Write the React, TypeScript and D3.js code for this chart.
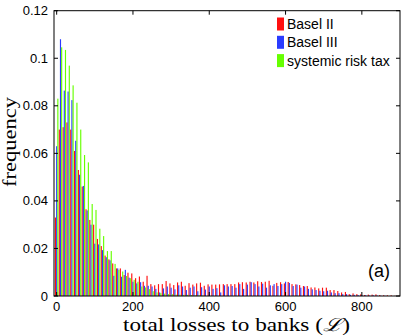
import React from "react";
import * as d3 from "d3";

// histogram bins are centred on 0, 10, 20, ... (losses)
const binStep = 10;

const basel2 = [
  0.033, 0.07, 0.071, 0.073, 0.07, 0.061, 0.053, 0.046, 0.0365, 0.032,
  0.03, 0.024, 0.021, 0.017, 0.0154, 0.0137, 0.0116, 0.0116, 0.0088, 0.0098,
  0.0095, 0.0075, 0.0082, 0.006, 0.0085, 0.005, 0.0045, 0.005, 0.005, 0.0063,
  0.0053, 0.0046, 0.0057, 0.006, 0.0043, 0.0054, 0.0048, 0.0053, 0.0056, 0.0043,
  0.0049, 0.0048, 0.0048, 0.0049, 0.005, 0.005, 0.005, 0.005, 0.0057, 0.0058,
  0.0057, 0.006, 0.0057, 0.0062, 0.0059, 0.006, 0.0064, 0.0043, 0.0055, 0.0058,
  0.0053, 0.0059, 0.005, 0.0049, 0.0046, 0.0042, 0.0042, 0.0036, 0.0036, 0.0032,
  0.0035, 0.0035, 0.0025, 0.0025, 0.0021, 0.0015, 0.0017, 0.0008, 0.0011, 0.0008,
  0.0007, 0.0004, 0.0006, 0.0006, 0.0007, 0.0004, 0.0003, 0.0003, 0.0003, 0.0001,
  0.0001,
];

const basel3 = [
  0.063, 0.108, 0.0864, 0.086, 0.0824, 0.0653, 0.051, 0.0463, 0.036, 0.03,
  0.022, 0.0217, 0.0193, 0.0163, 0.015, 0.0085, 0.0116, 0.0081, 0.011, 0.0077,
  0.006, 0.0053, 0.0058, 0.0043, 0.0043, 0.004, 0.003, 0.0015, 0.0032, 0.004,
  0.0035, 0.0028, 0.0045, 0.004, 0.0025, 0.0035, 0.004, 0.002, 0.0037, 0.0027,
  0.004, 0.003, 0.0033, 0.0015, 0.0045, 0.004, 0.0042, 0.0035, 0.005, 0.003,
  0.0048, 0.0058, 0.005, 0.004, 0.0052, 0.0035, 0.0045, 0.005, 0.0042, 0.005,
  0.006, 0.0055, 0.0042, 0.0048, 0.0035, 0.004, 0.003, 0.0028, 0.0025, 0.0022,
  0.002, 0.0022, 0.0015, 0.0012, 0.0012, 0.0008, 0.0008, 0.0005, 0.0005, 0.0004,
  0.0003, 0.0003, 0.0002, 0.0003, 0.0002, 0.0001, 0.0001,
];

const riskTax = [
  0.083, 0.1046, 0.1035, 0.0969, 0.0886, 0.0813, 0.07, 0.0593, 0.0562, 0.0387,
  0.0362, 0.0283, 0.0252, 0.0189, 0.0189, 0.0135, 0.011, 0.0103, 0.0084, 0.0075,
  0.0068, 0.006, 0.004, 0.0036, 0.0029, 0.002, 0.0015, 0.0012, 0.001, 0.0008,
  0.0008, 0.0006, 0.0006, 0.0005, 0.0005, 0.0004, 0.0003, 0.0003, 0.0002,
];

const seriesNames = ["Basel II", "Basel III", "systemic risk tax"];
const xTicks = [0, 200, 400, 600, 800];
const yTicks = [0, 0.02, 0.04, 0.06, 0.08, 0.1, 0.12];

const colors = ["#ff1010", "#2a3cff", "#66ff00"];

export default function App() {
  const width = 407;
  const height = 336;
  // axes box
  const left = 54, right = 400, top = 10.7, bottom = 296;

  const x = d3.scaleLinear().domain([-7, 900]).range([left, right]);
  const y = d3.scaleLinear().domain([0, 0.12]).range([bottom, top]);

  const series = [basel2, basel3, riskTax];
  const barW = 3; // in data units
  const offsets = [-3.1, 0, 3.1];
  const pxW = x(barW) - x(0);

  const tick = 4;
  const sans = "'Liberation Sans', Arial, Helvetica, sans-serif";
  const serif = "'Liberation Serif', 'DejaVu Serif', serif";

  return (
    <svg
      width={width}
      height={height}
      style={{ position: "absolute", left: 0, top: 0, background: "#fff" }}
    >
      <rect x={0} y={0} width={width} height={height} fill="#fff" />

      {/* bars */}
      <g>
        {series.map((vals, s) =>
          vals.map((v, i) => {
            const c = i * binStep + offsets[s];
            return (
              <rect
                key={s + "-" + i}
                x={x(c - barW / 2)}
                y={y(v)}
                width={pxW}
                height={y(0) - y(v)}
                fill={colors[s]}
              />
            );
          })
        )}
      </g>

      {/* box */}
      <rect
        x={left}
        y={top}
        width={right - left}
        height={bottom - top}
        fill="none"
        stroke="#000"
        strokeWidth={1}
      />

      {/* x ticks */}
      {xTicks.map((t) => (
        <g key={"x" + t}>
          <line x1={x(t)} x2={x(t)} y1={bottom} y2={bottom - tick} stroke="#000" />
          <line x1={x(t)} x2={x(t)} y1={top} y2={top + tick} stroke="#000" />
          <text
            x={x(t)}
            y={311}
            textAnchor="middle"
            fontFamily={sans}
            fontSize={13}
          >
            {t}
          </text>
        </g>
      ))}

      {/* y ticks */}
      {yTicks.map((t) => (
        <g key={"y" + t}>
          <line x1={left} x2={left + tick} y1={y(t)} y2={y(t)} stroke="#000" />
          <line x1={right} x2={right - tick} y1={y(t)} y2={y(t)} stroke="#000" />
          <text
            x={48}
            y={y(t) + 4.5}
            textAnchor="end"
            fontFamily={sans}
            fontSize={13}
          >
            {d3.format("~g")(t)}
          </text>
        </g>
      ))}

      {/* axis labels */}
      <text
        x={123}
        y={331}
        fontFamily={serif}
        fontSize={18}
        textLength={227}
        lengthAdjust="spacingAndGlyphs"
      >
        total losses to banks (<tspan fontStyle="italic">ℒ</tspan>)
      </text>
      <text
        transform="translate(16,187) rotate(-90)"
        fontFamily={serif}
        fontSize={19}
        textLength={90}
        lengthAdjust="spacingAndGlyphs"
      >
        frequency
      </text>

      <text x={368} y={277} fontFamily={sans} fontSize={18}>
        (a)
      </text>

      {/* legend */}
      {seriesNames.map((name, i) => {
        const cy = 24 + i * 18.3;
        return (
          <g key={name}>
            <rect x={277} y={cy - 6.5} width={7} height={13} fill={colors[i]} />
            <text x={287} y={cy + 5} fontFamily={sans} fontSize={14}>
              {name}
            </text>
          </g>
        );
      })}
    </svg>
  );
}
